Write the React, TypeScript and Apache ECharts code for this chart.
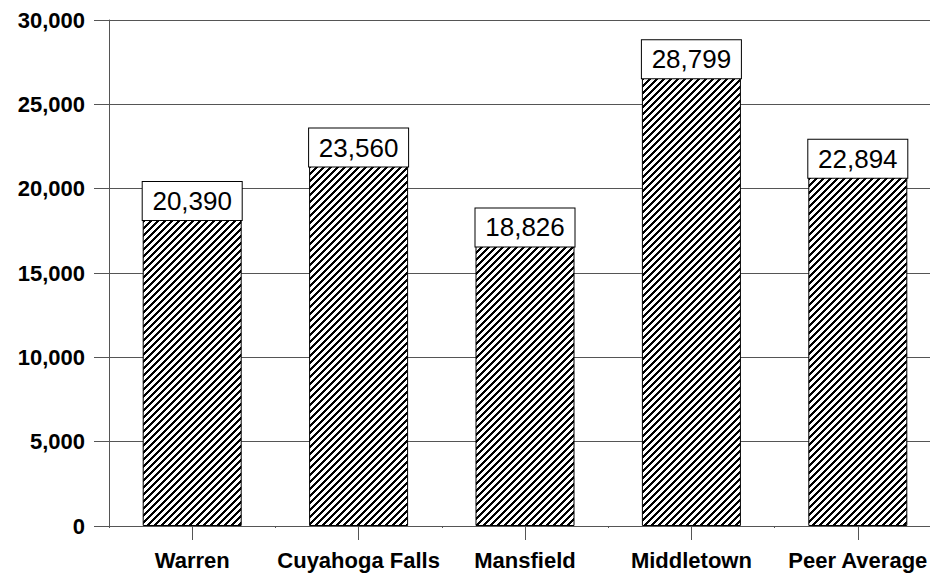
import React, { useEffect, useRef } from "react";
import * as echarts from "echarts";

// Cities compared and their values
const categories: string[] = ["Warren", "Cuyahoga Falls", "Mansfield", "Middletown", "Peer Average"];
const values: number[] = [20390, 23560, 18826, 28799, 22894];

// Value axis range
const yMin = 0;
const yMax = 30000;
const yStep = 5000;

const FONT = "'Liberation Sans', Arial, Helvetica, sans-serif";

// Builds a small tile of "/" diagonal stripes used as the bar fill
function makeHatchTile(): HTMLCanvasElement {
  const size = 7;
  const canvas = document.createElement("canvas");
  canvas.width = size;
  canvas.height = size;
  const ctx = canvas.getContext("2d")!;
  ctx.fillStyle = "#ffffff";
  ctx.fillRect(0, 0, size, size);
  ctx.fillStyle = "#000000";
  for (let y = 0; y < size; y++) {
    for (let k = 0; k < 3; k++) {
      const x = (size - 1 - y + k) % size;
      ctx.fillRect(x, y, 1, 1);
    }
  }
  return canvas;
}

export default function App() {
  const ref = useRef<HTMLDivElement>(null);

  useEffect(() => {
    if (!ref.current) return;
    const chart = echarts.init(ref.current, undefined, { renderer: "svg" });
    const tile = makeHatchTile();

    const axisGrey = "#555555";

    chart.setOption({
      animation: false,
      backgroundColor: "#ffffff",
      grid: {
        left: 109,
        top: 20,
        bottom: 48,
        width: 832,
        containLabel: false,
        outerBoundsMode: "none",
      },
      xAxis: [
        {
          type: "category",
          data: categories,
          position: "bottom",
          axisLine: { show: true, lineStyle: { color: axisGrey, width: 1 } },
          axisTick: { show: true, alignWithLabel: true, length: 14, lineStyle: { color: axisGrey } },
          axisLabel: {
            margin: 23,
            color: "#000",
            fontFamily: FONT,
            fontSize: 22,
            fontWeight: "bold",
            interval: 0,
          },
        },
        {
          // short marks at the category boundaries
          type: "category",
          data: categories,
          position: "bottom",
          axisLine: { show: false },
          axisTick: { show: true, length: 2, lineStyle: { color: axisGrey } },
          axisLabel: { show: false },
          splitLine: { show: false },
        },
      ],
      yAxis: {
        type: "value",
        min: yMin,
        max: yMax,
        interval: yStep,
        axisLine: { show: true, lineStyle: { color: axisGrey, width: 1 } },
        axisTick: { show: true, length: 15, lineStyle: { color: axisGrey } },
        splitLine: { show: true, lineStyle: { color: axisGrey, width: 1 } },
        axisLabel: {
          margin: 24,
          color: "#000",
          fontFamily: FONT,
          fontSize: 22,
          fontWeight: "bold",
          formatter: (v: number) => v.toLocaleString("en-US"),
        },
      },
      series: [
        {
          type: "bar",
          xAxisIndex: 0,
          data: values,
          barWidth: 99,
          itemStyle: {
            color: { image: tile, repetition: "repeat", imageWidth: 7, imageHeight: 7 },
            borderColor: "#000",
            borderWidth: 1,
          },
          label: {
            show: true,
            position: "insideTop",
            distance: 0,
            formatter: (p: any) => Number(p.value).toLocaleString("en-US"),
            color: "#000",
            fontFamily: FONT,
            fontSize: 26,
            width: 99,
            height: 38,
            lineHeight: 38,
            align: "center",
            verticalAlign: "top",
            backgroundColor: "#ffffff",
            borderColor: "#000",
            borderWidth: 1,
            padding: 0,
          },
        },
      ],
    });

    return () => chart.dispose();
  }, []);

  return (
    <div
      ref={ref}
      style={{ position: "fixed", left: 0, top: 0, width: 930, height: 574, background: "#fff" }}
    />
  );
}
